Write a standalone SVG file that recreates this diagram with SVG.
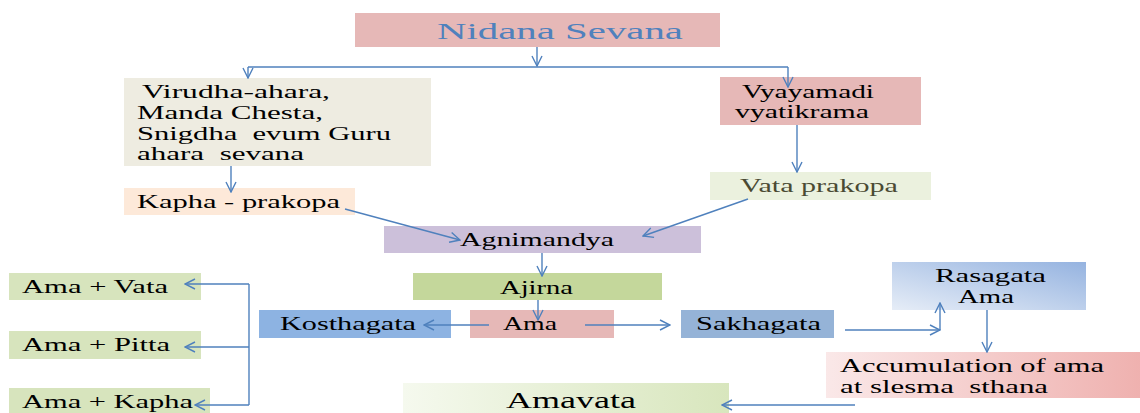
<svg xmlns="http://www.w3.org/2000/svg" width="1140" height="413" viewBox="0 0 1140 413">
<defs>
<style>
text{font-family:"Liberation Serif","Times New Roman",serif;font-size:18px;fill:#000}
.c{stroke:#4f81bd;stroke-width:1.4;fill:none}
.t{font-size:23px;fill:#4f81bd}
.big{font-size:24px}
</style>
<marker id="ah" viewBox="0 0 12 12" refX="11" refY="6" markerWidth="12" markerHeight="12" markerUnits="userSpaceOnUse" orient="auto">
<path d="M1,1 L11,6 L1,11" fill="none" stroke="#4f81bd" stroke-width="1.4"/>
</marker>
<linearGradient id="gRas" x1="0" y1="1" x2="1" y2="0">
<stop offset="0" stop-color="#e6edf7"/><stop offset="1" stop-color="#95b3e0"/>
</linearGradient>
<linearGradient id="gAcc" x1="0" y1="0" x2="1" y2="0">
<stop offset="0" stop-color="#fae8e8"/><stop offset="1" stop-color="#efb1af"/>
</linearGradient>
<linearGradient id="gAmv" x1="0" y1="0" x2="1" y2="0">
<stop offset="0" stop-color="#f5f9ee"/><stop offset="1" stop-color="#d8e6bd"/>
</linearGradient>
</defs>
<rect width="1140" height="413" fill="#fff"/>

<g id="nidana"><rect x="355" y="13" width="365" height="34" fill="#e6b8b7"/><text class="t" x="437" y="39" textLength="246" lengthAdjust="spacingAndGlyphs">Nidana Sevana</text></g>
<g id="virudha"><rect x="124" y="78" width="307" height="88" fill="#eeece1"/>
<text x="142" y="98" textLength="188" lengthAdjust="spacingAndGlyphs">Virudha-ahara,</text>
<text x="137" y="119" textLength="186" lengthAdjust="spacingAndGlyphs">Manda Chesta,</text>
<text x="137" y="140" textLength="254" lengthAdjust="spacingAndGlyphs" xml:space="preserve">Snigdha  evum Guru</text>
<text x="137" y="160" textLength="167" lengthAdjust="spacingAndGlyphs" xml:space="preserve">ahara  sevana</text></g>
<g id="kapha"><rect x="124" y="188" width="231" height="27" fill="#fde9d9"/><text x="137" y="208" textLength="203" lengthAdjust="spacingAndGlyphs">Kapha - prakopa</text></g>
<g id="vyayamadi"><rect x="720" y="77" width="201" height="48" fill="#e6b8b7"/>
<text x="742" y="98" textLength="132" lengthAdjust="spacingAndGlyphs">Vyayamadi</text>
<text x="735" y="118" textLength="134" lengthAdjust="spacingAndGlyphs">vyatikrama</text></g>
<g id="vata"><rect x="710" y="172" width="221" height="28" fill="#ebf1de"/><text x="740" y="192" textLength="158" lengthAdjust="spacingAndGlyphs" style="fill:#4a4a33">Vata prakopa</text></g>
<g id="agnimandya"><rect x="384" y="226" width="317" height="27" fill="#ccc0da"/><text x="460" y="246" textLength="154" lengthAdjust="spacingAndGlyphs">Agnimandya</text></g>
<g id="ajirna"><rect x="413" y="273" width="249" height="27" fill="#c4d79b"/><text x="500" y="294" textLength="73" lengthAdjust="spacingAndGlyphs">Ajirna</text></g>
<g id="ama"><rect x="470" y="310" width="144" height="28" fill="#e6b8b7"/><text x="503" y="330" textLength="54" lengthAdjust="spacingAndGlyphs">Ama</text></g>
<g id="kosthagata"><rect x="259" y="310" width="192" height="28" fill="#8db3e2"/><text x="280" y="330" textLength="136" lengthAdjust="spacingAndGlyphs">Kosthagata</text></g>
<g id="sakhagata"><rect x="681" y="310" width="153" height="28" fill="#95b3d7"/><text x="696" y="330" textLength="125" lengthAdjust="spacingAndGlyphs">Sakhagata</text></g>
<g id="rasagata"><rect x="892" y="262" width="194" height="48" fill="url(#gRas)"/>
<text x="935" y="282" textLength="111" lengthAdjust="spacingAndGlyphs">Rasagata</text>
<text x="958" y="303" textLength="56" lengthAdjust="spacingAndGlyphs">Ama</text></g>
<g id="accumulation"><rect x="826" y="352" width="315" height="46" fill="url(#gAcc)"/>
<text x="840" y="372" textLength="264" lengthAdjust="spacingAndGlyphs">Accumulation of ama</text>
<text x="840" y="393" textLength="208" lengthAdjust="spacingAndGlyphs" xml:space="preserve">at slesma  sthana</text></g>
<g id="amavata"><rect x="403" y="383" width="326" height="30" fill="url(#gAmv)"/><text class="big" x="506" y="408" textLength="130" lengthAdjust="spacingAndGlyphs">Amavata</text></g>
<g id="ama-vata"><rect x="9" y="273" width="192" height="27" fill="#d7e4bd"/><text x="22" y="293" textLength="146" lengthAdjust="spacingAndGlyphs">Ama + Vata</text></g>
<g id="ama-pitta"><rect x="9" y="331" width="192" height="28" fill="#d7e4bd"/><text x="22" y="351" textLength="148" lengthAdjust="spacingAndGlyphs">Ama + Pitta</text></g>
<g id="ama-kapha"><rect x="9" y="388" width="201" height="25" fill="#d7e4bd"/><text x="22" y="408" textLength="171" lengthAdjust="spacingAndGlyphs">Ama + Kapha</text></g>

<g id="connectors">
<path class="c" d="M537,47 V66" marker-end="url(#ah)"/>
<path class="c" d="M248,67 H788"/>
<path class="c" d="M248,67 V78" marker-end="url(#ah)"/>
<path class="c" d="M788,67 V87" marker-end="url(#ah)"/>
<path class="c" d="M231,166 V192" marker-end="url(#ah)"/>
<path class="c" d="M797,125 V172" marker-end="url(#ah)"/>
<path class="c" d="M345,209 L460,240" marker-end="url(#ah)"/>
<path class="c" d="M748,199 L643,236" marker-end="url(#ah)"/>
<path class="c" d="M542,253 V276" marker-end="url(#ah)"/>
<path class="c" d="M538,300 V320" marker-end="url(#ah)"/>
<path class="c" d="M489,325 H424" marker-end="url(#ah)"/>
<path class="c" d="M585,325 H670" marker-end="url(#ah)"/>
<path class="c" d="M845,330 H940" marker-end="url(#ah)"/>
<path class="c" d="M940,330 V303" marker-end="url(#ah)"/>
<path class="c" d="M987,310 V352" marker-end="url(#ah)"/>
<path class="c" d="M855,405 H722" marker-end="url(#ah)"/>
<path class="c" d="M249,284 V405"/>
<path class="c" d="M249,284 H185" marker-end="url(#ah)"/>
<path class="c" d="M249,347 H185" marker-end="url(#ah)"/>
<path class="c" d="M249,405 H195" marker-end="url(#ah)"/>
</g>
</svg>
